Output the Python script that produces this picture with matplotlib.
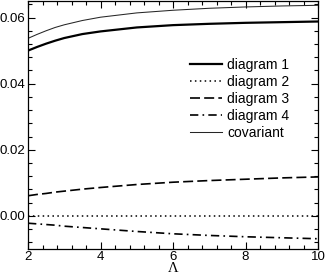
import numpy as np
import matplotlib
matplotlib.use("Agg")
import matplotlib.pyplot as plt
from matplotlib.ticker import MultipleLocator

plt.rcParams['font.family'] = ['Liberation Sans', 'DejaVu Sans']

lam = np.array([2, 2.25, 2.5, 2.75, 3, 3.5, 4, 5, 6, 7, 8, 9, 10])
diag1 = np.array([0.0500, 0.0511, 0.0521, 0.0530, 0.0538, 0.0550, 0.0558, 0.0570, 0.0577, 0.0581, 0.0584, 0.0586, 0.0588])
diag2 = np.zeros(len(lam))
diag3 = np.array([0.0061, 0.0065, 0.0068, 0.0072, 0.0075, 0.0081, 0.0086, 0.0095, 0.0102, 0.0107, 0.0111, 0.0115, 0.0118])
diag4 = np.array([-0.0022, -0.0024, -0.0026, -0.0028, -0.0031, -0.0035, -0.0039, -0.0047, -0.0054, -0.0059, -0.0063, -0.0066, -0.0069])
covariant = np.array([0.0537, 0.0549, 0.0560, 0.0570, 0.0578, 0.0591, 0.0601, 0.0614, 0.0622, 0.0628, 0.0632, 0.0635, 0.0637])

fig = plt.figure(figsize=(3.27, 2.76), dpi=100)
ax = fig.add_axes([28 / 327, 1 - 249 / 276, 290 / 327, 248 / 276])

ax.plot(lam, diag1, color='black', lw=1.6, label='diagram 1')
ax.plot(lam, diag2, color='black', lw=1.1, ls=(0, (1, 2.2)), label='diagram 2')
ax.plot(lam, diag3, color='black', lw=1.2, ls=(0, (6, 2.5)), label='diagram 3')
ax.plot(lam, diag4, color='black', lw=1.2, ls=(0, (5, 2.5, 1, 2.5)), label='diagram 4')
ax.plot(lam, covariant, color='0.15', lw=0.75, label='covariant')

ax.set_xlim(2, 10)
ax.set_ylim(-0.01, 0.065)
ax.xaxis.set_major_locator(MultipleLocator(2))
ax.xaxis.set_minor_locator(MultipleLocator(0.4))
ax.yaxis.set_major_locator(MultipleLocator(0.02))
ax.yaxis.set_minor_locator(MultipleLocator(0.004))
ax.yaxis.set_major_formatter(plt.FormatStrFormatter('%.2f'))
ax.tick_params(which='both', direction='in', top=True, right=True, labelsize=9.5, width=0.8)
ax.tick_params(which='major', length=5, pad=2)
ax.tick_params(axis='x', which='major', pad=1.5)
ax.tick_params(which='minor', length=3)
for s in ax.spines.values():
    s.set_linewidth(0.9)

ax.set_xlabel('Λ', family=['Liberation Serif', 'DejaVu Serif'], fontsize=10.5, labelpad=-0.5)

leg = ax.legend(loc='upper left', bbox_to_anchor=(0.559, 0.77), frameon=False,
                fontsize=10, handlelength=2.3, handletextpad=0.35,
                labelspacing=0.22, borderpad=0, borderaxespad=0)

fig.savefig('out.png', dpi=100)
